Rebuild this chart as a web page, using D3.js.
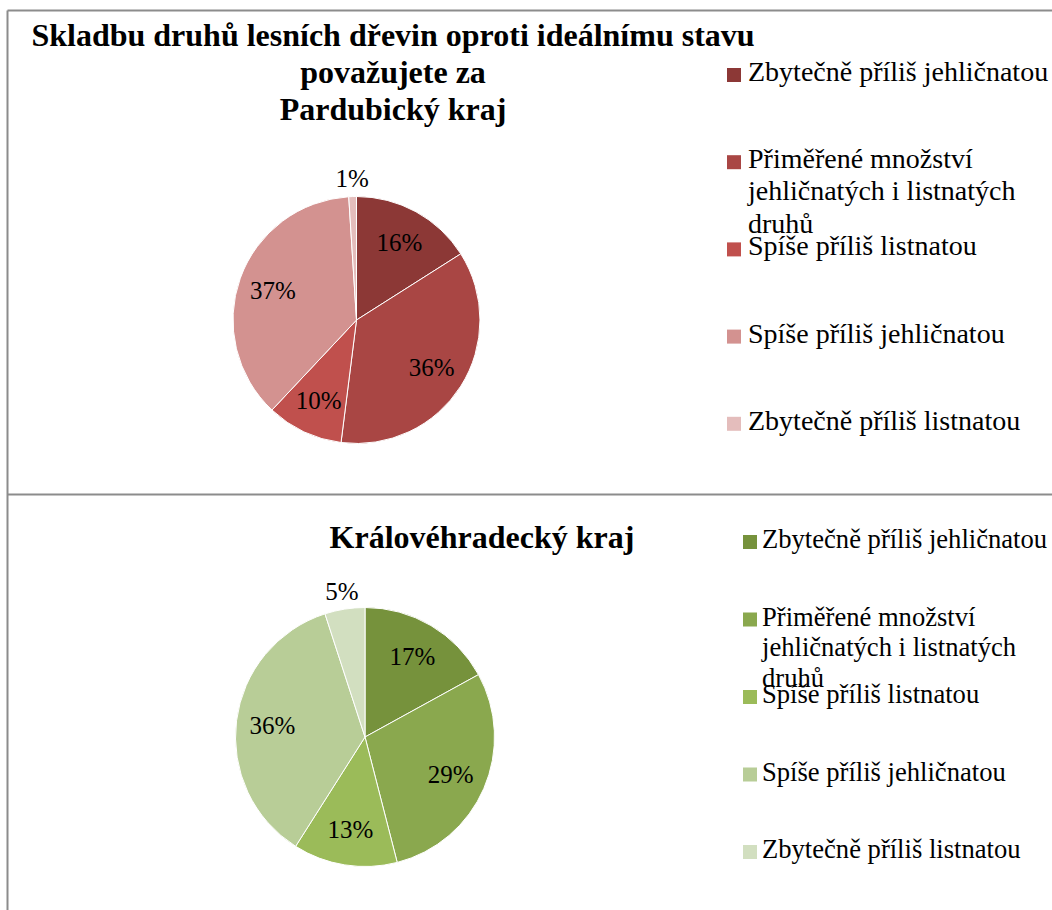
<!DOCTYPE html>
<html>
<head>
<meta charset="utf-8">
<script src="https://cdn.jsdelivr.net/npm/d3@7"></script>
<style>
  body { margin: 0; background: #fff; }
  svg { display: block; font-family: "Liberation Serif", "Times New Roman", serif; }
</style>
</head>
<body>
<svg id="chart" width="1052" height="910"></svg>
<script>
// shared categories (legend order = slice order)
var categories = [
  "Zbytečně příliš jehličnatou",
  "Přiměřené množství jehličnatých i listnatých druhů",
  "Spíše příliš listnatou",
  "Spíše příliš jehličnatou",
  "Zbytečně příliš listnatou"
];

// Pardubický kraj
var pardubiceTitle = ["Skladbu druhů lesních dřevin oproti ideálnímu stavu", "považujete za", "Pardubický kraj"];
var pardubiceValues = [16, 36, 10, 37, 1];
var pardubiceColors = ["#8c3836", "#a94644", "#c0504d", "#d39290", "#e4bdbc"];

// Královéhradecký kraj
var hradecTitle = ["Královéhradecký kraj"];
var hradecValues = [17, 29, 13, 36, 5];
var hradecColors = ["#76923c", "#8aa84e", "#9bbb59", "#b8cd97", "#d2dfc0"];

var svg = d3.select("#chart");

// frame lines
var frame = svg.append("g")
  .style("stroke", "#8c8c8c")
  .style("stroke-width", 2)
  .style("fill", "none");
frame.append("line").attr("x1", 7.5).attr("y1", 10.5).attr("x2", 1052).attr("y2", 10.5);
frame.append("line").attr("x1", 7.5).attr("y1", 10.5).attr("x2", 7.5).attr("y2", 910);
frame.append("line").attr("x1", 7.5).attr("y1", 494.5).attr("x2", 1052).attr("y2", 494.5);

function drawPanel(opts) {
  var g = svg.append("g");

  // title
  g.append("text")
    .attr("text-anchor", "middle")
    .style("font-weight", "bold")
    .style("font-size", opts.titleSize + "px")
    .selectAll("tspan")
    .data(opts.title)
    .join("tspan")
      .attr("x", opts.titleX)
      .attr("y", function (d, i) { return opts.titleY + i * 37; })
      .text(function (d) { return d; });

  // pie
  var pie = d3.pie().sort(null).value(function (d) { return d; });
  var arcs = pie(opts.values);
  var arc = d3.arc().innerRadius(0).outerRadius(opts.r);
  var color = d3.scaleOrdinal().domain(categories).range(opts.colors);

  var pg = g.append("g")
    .attr("transform", "translate(" + opts.cx + "," + opts.cy + ")");

  pg.selectAll("path")
    .data(arcs)
    .join("path")
      .attr("d", arc)
      .style("fill", function (d, i) { return color(categories[i]); })
      .style("stroke", "#fff")
      .style("stroke-width", 1);

  var inner = d3.arc().innerRadius(opts.r * 0.72).outerRadius(opts.r * 0.72);
  var outer = d3.arc().innerRadius(opts.r + 18).outerRadius(opts.r + 18);

  pg.selectAll("text")
    .data(arcs)
    .join("text")
      .attr("transform", function (d) {
        var c = d.data <= 5 ? outer.centroid(d) : inner.centroid(d);
        return "translate(" + c[0] + "," + c[1] + ")";
      })
      .attr("text-anchor", "middle")
      .attr("dy", "0.35em")
      .style("font-size", "25px")
      .style("fill", "#000")
      .text(function (d) { return d.data + "%"; });

  // legend
  var lg = g.append("g")
    .attr("transform", "translate(" + opts.legendX + "," + opts.legendY + ")");

  var items = lg.selectAll("g")
    .data(categories)
    .join("g")
      .attr("transform", function (d, i) { return "translate(0," + i * opts.legendStep + ")"; });

  items.append("rect")
    .attr("x", 0)
    .attr("y", -13)
    .attr("width", 14)
    .attr("height", 14)
    .style("fill", function (d) { return color(d); });

  items.append("text")
    .style("font-size", opts.legendSize + "px")
    .style("fill", "#000")
    .each(function (d) {
      var t = d3.select(this);
      var words = d.split(" ");
      var line = [];
      var n = 0;
      var tspan = t.append("tspan").attr("x", opts.textGap).attr("y", 0);
      words.forEach(function (w) {
        line.push(w);
        tspan.text(line.join(" "));
        if (tspan.node().getComputedTextLength() > opts.legendSize * 11.4 && line.length > 1) {
          line.pop();
          tspan.text(line.join(" "));
          line = [w];
          n++;
          tspan = t.append("tspan")
            .attr("x", opts.textGap)
            .attr("y", n * opts.legendSize * 1.15)
            .text(w);
        }
      });
    });
}

drawPanel({
  title: pardubiceTitle, titleX: 393, titleY: 46, titleSize: 32,
  values: pardubiceValues, colors: pardubiceColors,
  cx: 356.5, cy: 320, r: 123.5,
  legendX: 727, legendY: 81, legendStep: 87.2, legendSize: 28, textGap: 21
});

drawPanel({
  title: hradecTitle, titleX: 482, titleY: 548, titleSize: 32,
  values: hradecValues, colors: hradecColors,
  cx: 365, cy: 737, r: 129.5,
  legendX: 743, legendY: 548, legendStep: 77.5, legendSize: 26.6, textGap: 19
});
</script>
</body>
</html>
